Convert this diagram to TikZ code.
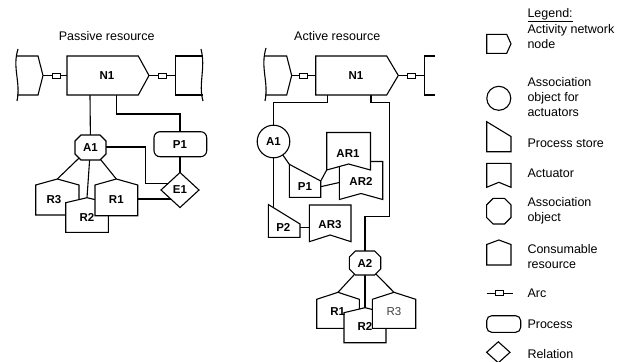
\documentclass[tikz,border=0pt]{standalone}
\usepackage{fontspec}
\setmainfont{Liberation Sans}
\newcommand\drawhouse[5]{\draw[shp] (#1,#5) -- (#1,#4) -- ({(#1+#2)/2},#3) -- (#2,#4) -- (#2,#5) -- cycle;}
\newcommand\drawocta[5]{\draw[shp] ({#1-#3+#5},{#2-#4}) -- ({#1+#3-#5},{#2-#4}) -- ({#1+#3},{#2-#4+#5}) -- ({#1+#3},{#2+#4-#5}) -- ({#1+#3-#5},{#2+#4}) -- ({#1-#3+#5},{#2+#4}) -- ({#1-#3},{#2+#4-#5}) -- ({#1-#3},{#2-#4+#5}) -- cycle;}
\newcommand\drawact[5]{\draw[shp] (#1,#3) -- (#2,#3) -- (#2,#4) -- ({(#1+#2)/2},#5) -- (#1,#4) -- cycle;}
\newcommand\drawpstore[5]{\draw[shp] (#1,#3) -- (#2,#4) -- (#2,#5) -- (#1,#5) -- cycle;}
\newcommand\drawanode[5]{\draw[shp] (#1,#3) -- (#2,#3) -- (#5,{(#3+#4)/2}) -- (#2,#4) -- (#1,#4) -- cycle;}
\tikzset{
  shp/.style={draw=black, fill=white, line width=1.1pt, line join=miter},
  con/.style={draw=black, line width=1.1pt},
  lbl/.style={font=\bfseries\fontsize{11.5}{12}\selectfont, inner sep=0pt},
  ttl/.style={font=\fontsize{12.5}{14}\selectfont, inner sep=0pt},
  leg/.style={font=\fontsize{12.5}{15}\selectfont, anchor=west, align=left, inner sep=0pt},
  arcbox/.style={draw=black, fill=white, line width=1pt, minimum width=8pt, minimum height=5pt, inner sep=0pt},
}
\begin{document}
\begin{tikzpicture}[x=1pt,y=-1pt]
\useasboundingbox (0,0) rectangle (625,362);
% ================= Passive resource =================
\node[ttl] (tpass) at (106.7,35.7) {Passive resource};
\coordinate (pLNe) at (43,75.5);
\coordinate (pN1w) at (67,75.5);
\coordinate (pN1e) at (149,75.5);
\coordinate (pRNw) at (175.7,75.5);
\coordinate (pN1a) at (90,95);
\coordinate (pN1b) at (116.7,95);
\coordinate (pA1c) at (90.5,147);
\coordinate (pP1c) at (180,144.2);
\coordinate (pE1c) at (180,190);
\coordinate (pJ1) at (145.7,183.3);
\coordinate (pE1k) at (172,183.3);
\coordinate (pR1c) at (116.3,199);
\coordinate (pR1t) at (116.3,179);
\coordinate (pR2t) at (87,197.7);
\coordinate (pR3t) at (57.3,179);
% connectors
\draw[con] (pLNe) -- node[arcbox, pos=0.55] (parc1) {} (pN1w);
\draw[con] (pN1e) -- node[arcbox, pos=0.52] (parc2) {} (pRNw);
\draw[con] (pN1a) -- (pA1c);
\draw[con] (pN1b) -- ++(0,19) -| (pP1c);
\draw[con] (pP1c) -- (pE1c);
\draw[con] (pA1c) -| (pJ1) -- (pE1k);
\draw[con] (pR1c) -- (pR1c -| pE1c);
\draw[con] (pA1c) -- (pR3t);
\draw[con] (pA1c) -- (pR2t);
\draw[con] (pA1c) -- (pR1t);
% shapes
\draw[con] (18,49) .. controls (12,68) and (21,82) .. (17,101);
\draw[con] (17,56) -- (38,56) -- (pLNe) -- (38,95) -- (17,95);
\drawanode{67}{138.3}{56}{95}{149}
\draw[con] (201,49) .. controls (206,68) and (198,84) .. (203,101);
\draw[con] (202.5,56) -- (175.7,56) -- (175.7,95) -- (202.5,95);
\drawocta{90.5}{147.5}{15.5}{12.5}{6}
\draw[shp, rounded corners=6pt] (154,131.7) rectangle (206.7,156.7);
\draw[shp] (180,172.5) -- (199,190) -- (180,207.5) -- (161,190) -- cycle;
\drawhouse{35.7}{79}{179}{185}{215}
\drawhouse{65.7}{108.3}{197.7}{202.7}{232.3}
\drawhouse{95}{137.7}{179}{185}{215.7}
% labels
\node[lbl] (pN1) at (107,75.5) {N1};
\node[lbl] (pA1) at (90.5,147.5) {A1};
\node[lbl] (pP1) at (180,144.2) {P1};
\node[lbl] (pE1) at (180,190) {E1};
\node[lbl] (pR3) at (54,200) {R3};
\node[lbl] (pR2) at (87,217.3) {R2};
\node[lbl] (pR1) at (116.3,199.3) {R1};
% ================= Active resource =================
\node[ttl] (tact) at (337.3,35.7) {Active resource};
\coordinate (aLNe) at (291.7,75.5);
\coordinate (aN1w) at (315.7,75.5);
\coordinate (aN1e) at (398.3,75.5);
\coordinate (aRNw) at (424.3,75.5);
\coordinate (aN1a) at (327.3,95);
\coordinate (aN1b) at (371,95);
\coordinate (aA1c) at (273.5,141.5);
\coordinate (aP2c) at (283.5,222);
\coordinate (aP1tl) at (289.3,164.3);
\coordinate (aP1tr) at (320.7,181);
\coordinate (aAR1bl) at (326.7,170);
\coordinate (aP1r) at (320.7,186.7);
\coordinate (aAR2l) at (339.3,182.5);
\coordinate (aP2r) at (300,227.3);
\coordinate (aAR3l) at (309.3,227.3);
\coordinate (aK1) at (389.3,216.7);
\coordinate (aA2c) at (365,263);
\coordinate (aR1t) at (338,292.3);
\coordinate (aR2t) at (365,307.7);
\coordinate (aR3t) at (394,292.3);
% connectors
\draw[con] (aLNe) -- node[arcbox, pos=0.48] (aarc1) {} (aN1w);
\draw[con] (aN1e) -- node[arcbox, pos=0.49] (aarc2) {} (aRNw);
\draw[con] (aN1a) -- ++(0,7.3) -| (aA1c);
\draw[con] (aA1c) -- (aA1c |- aP2c);
\draw[con] (aA1c) -- (aP1tl);
\draw[con] (aP1tr) -- (aAR1bl);
\draw[con] (aP1r) -- (aAR2l);
\draw[con] (aP2r) -- (aAR3l);
\draw[con] (aN1b) -- ++(0,7.3) -| (aK1) -| (aA2c);
\draw[con] (aA2c) -- (aR1t);
\draw[con] (aA2c) -- (aR2t);
\draw[con] (aA2c) -- (aR3t);
% shapes
\draw[con] (266,48) .. controls (260,68) and (269,82) .. (265,101);
\draw[con] (265,56) -- (286.7,56) -- (aLNe) -- (286.7,95) -- (265,95);
\drawanode{315.7}{386.7}{56}{95}{398.3}
\draw[con] (435,56) -- (424.3,56) -- (424.3,95) -- (435,95);
\draw[shp] (aA1c) circle[radius=16.3pt];
\drawpstore{289.3}{320.7}{164.3}{181}{197.3}
\drawact{339.3}{382.7}{161.5}{199.5}{193.5}
\drawact{326.7}{370.5}{132.5}{170}{164}
\drawpstore{268.3}{300}{204.5}{224}{237.3}
\drawact{309.3}{351}{205}{241.7}{235}
\drawocta{365}{263}{15.7}{12}{6}
\drawhouse{316.7}{359.3}{292.3}{299.3}{328.3}
\drawhouse{344}{386}{307.7}{312.7}{342.7}
\drawhouse{372.3}{415.7}{292.3}{299.3}{328.3}
% labels
\node[lbl] (aN1) at (356,75.5) {N1};
\node[lbl] (aA1) at (273.5,141.5) {A1};
\node[lbl] (aP1) at (305,187) {P1};
\node[lbl] (aAR1) at (348,153.3) {AR1};
\node[lbl] (aAR2) at (361,181.7) {AR2};
\node[lbl] (aP2) at (283.3,227) {P2};
\node[lbl] (aAR3) at (330,225) {AR3};
\node[lbl] (aA2) at (365,263) {A2};
\node[lbl] (aR1) at (337.7,311.7) {R1};
\node[lbl] (aR2) at (365,326.7) {R2};
\node[lbl, font=\fontsize{11.5}{12}\selectfont, text=black!75] (aR3) at (394,311.7) {R3};
% ================= Legend =================
\node[leg] (lgtitle) at (527.3,15) {\underline{Legend:}};
\drawanode{486.7}{506.7}{34.3}{53.3}{511}
\node[leg] (lg1) at (527.3,36.7) {Activity network\\node};
\draw[shp] (498.8,98.3) circle[radius=12pt];
\node[leg] (lg2) at (527.3,96.7) {Association\\object for\\actuators};
\drawpstore{486.7}{511}{121.7}{136.5}{151.7}
\node[leg] (lg3) at (527.3,143) {Process store};
\drawact{486.7}{511}{163.3}{187.3}{182.3}
\node[leg] (lg4) at (527.3,173.3) {Actuator};
\drawocta{498.8}{211.2}{12.2}{12.8}{6.5}
\node[leg] (lg5) at (527.3,210.8) {Association\\object};
\drawhouse{486.7}{511}{240}{244.5}{265}
\node[leg] (lg6) at (527.3,256.2) {Consumable\\resource};
\coordinate (lgarcA) at (486.7,293.3);
\coordinate (lgarcB) at (512.7,293.3);
\draw[con] (lgarcA) -- node[arcbox, minimum width=8.5pt] (lgarcbox) {} (lgarcB);
\node[leg] (lg7) at (527.3,293.5) {Arc};
\draw[shp, rounded corners=5pt] (486.7,315.7) rectangle (520.7,332.3);
\node[leg] (lg8) at (527.3,324.3) {Process};
\draw[shp] (498.3,341.8) -- (510,352.3) -- (498.3,362.8) -- (486.6,352.3) -- cycle;
\node[leg] (lg9) at (527.3,354.3) {Relation};
\end{tikzpicture}
\end{document}
